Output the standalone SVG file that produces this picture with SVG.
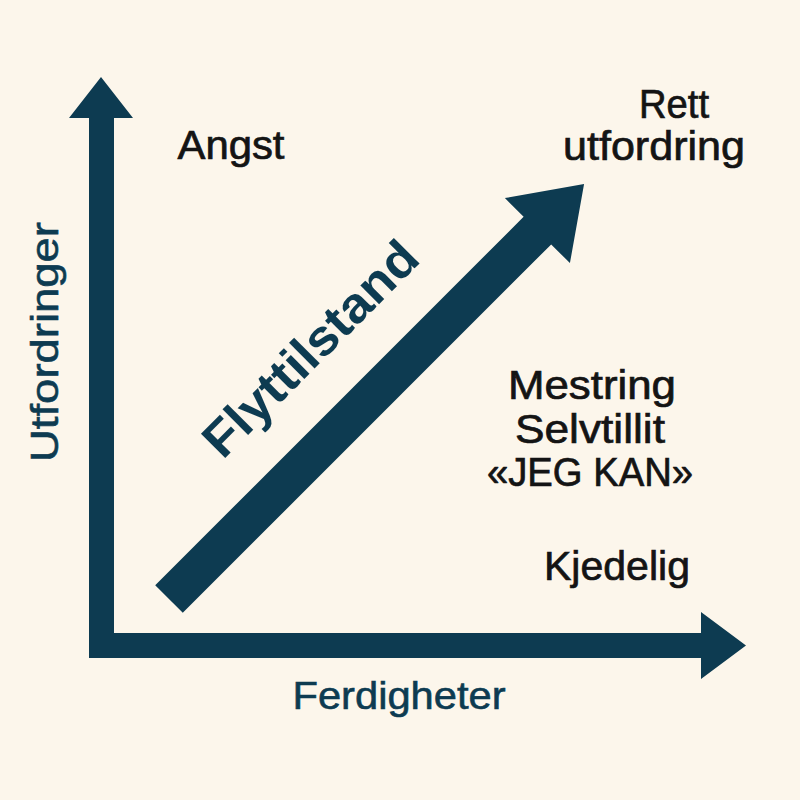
<svg xmlns="http://www.w3.org/2000/svg" width="800" height="800" viewBox="0 0 800 800">
  <style>
    .shape { fill: #0d3b51; }
    .lbl { font-family: "Liberation Sans", Arial, sans-serif; font-size: 40px; fill: #141414; stroke: #141414; stroke-width: 0.7; text-anchor: middle; }
    .axis { font-family: "Liberation Sans", Arial, sans-serif; font-size: 39px; fill: #0d3b51; stroke: #0d3b51; stroke-width: 0.6; text-anchor: middle; }
    .diag { font-family: "Liberation Sans", Arial, sans-serif; font-size: 50px; font-weight: bold; fill: #0d3b51; }
  </style>
  <rect width="800" height="800" fill="#fcf6eb"/>
  <g id="connectors">
    <polygon id="axes" class="shape" points="101,77 133,118 114,118 114,633 701,633 701,612 746,645.5 701,679 701,658 89,658 89,118 69,118"/>
    <polygon id="diagonal-arrow" class="shape" transform="translate(169,599) rotate(-45)" points="0,-19.5 521,-19.5 521,-46 587,0 521,46 521,19.5 0,19.5"/>
  </g>
  <g id="label-flyttilstand">
    <text class="diag" transform="translate(169,599) rotate(-45)" x="136" y="-60" textLength="282" lengthAdjust="spacingAndGlyphs">Flyttilstand</text>
  </g>
  <g id="axis-y">
    <text class="axis" transform="translate(58,342) rotate(-90)" x="0" y="0" textLength="240" lengthAdjust="spacingAndGlyphs">Utfordringer</text>
  </g>
  <g id="axis-x">
    <text class="axis" x="399" y="709" textLength="213" lengthAdjust="spacingAndGlyphs">Ferdigheter</text>
  </g>
  <g id="node-angst">
    <text class="lbl" x="231" y="159" textLength="107" lengthAdjust="spacingAndGlyphs">Angst</text>
  </g>
  <g id="node-rett">
    <text class="lbl" x="674" y="118" textLength="70" lengthAdjust="spacingAndGlyphs">Rett</text>
    <text class="lbl" x="654" y="160" textLength="182" lengthAdjust="spacingAndGlyphs">utfordring</text>
  </g>
  <g id="node-mestring">
    <text class="lbl" x="592" y="399" textLength="168" lengthAdjust="spacingAndGlyphs">Mestring</text>
    <text class="lbl" x="590" y="443" textLength="150" lengthAdjust="spacingAndGlyphs">Selvtillit</text>
    <text class="lbl" x="590" y="486" textLength="206" lengthAdjust="spacingAndGlyphs">«JEG KAN»</text>
  </g>
  <g id="node-kjedelig">
    <text class="lbl" x="617" y="580" textLength="146" lengthAdjust="spacingAndGlyphs">Kjedelig</text>
  </g>
</svg>
